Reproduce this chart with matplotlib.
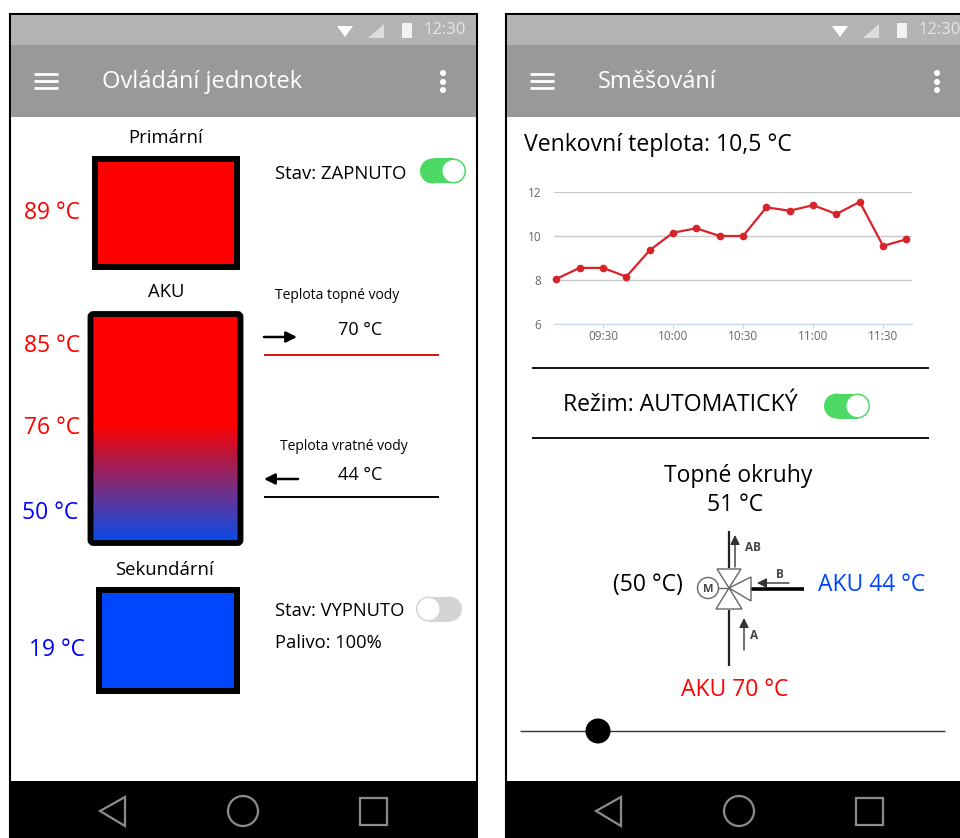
import numpy as np
import matplotlib
matplotlib.use('Agg')
import matplotlib.pyplot as plt
from matplotlib.patches import Rectangle, Circle, FancyBboxPatch, Polygon
from matplotlib.colors import LinearSegmentedColormap

plt.rcParams['font.family'] = ['Open Sans', 'DejaVu Sans']

times = [550, 560, 570, 580, 590, 600, 610, 620, 630, 640, 650, 660, 670, 680, 690, 700]
temps = [8.05, 8.55, 8.55, 8.15, 9.35, 10.15, 10.35, 10.0, 10.0, 11.3, 11.15, 11.4, 11.0, 11.55, 9.55, 9.85]
time_ticks = [570, 600, 630, 660, 690]
time_labels = ['09:30', '10:00', '10:30', '11:00', '11:30']
temp_ticks = [6, 8, 10, 12]

RED = '#ff0000'
BLUE = '#0046ff'

fig = plt.figure(figsize=(9.6, 8.38), dpi=100)
ax = fig.add_axes([0, 0, 1, 1])
ax.set_xlim(0, 960)
ax.set_ylim(838, 0)
ax.axis('off')


def txt(x, y, s, size=15, color='black', ha='center', **kw):
    ax.text(x, y + 2, s, fontsize=size, color=color, ha=ha, va='center', **kw)


def line(x0, y0, x1, y1, lw=1.5, color='black', z=3):
    ax.plot([x0, x1], [y0, y1], color=color, lw=lw, solid_capstyle='butt', zorder=z)


def arrow(x0, y0, x1, y1, lw=2, color='black', ms=16):
    ax.annotate('', xy=(x1, y1), xytext=(x0, y0),
                arrowprops=dict(arrowstyle='-|>', color=color, lw=lw, mutation_scale=ms,
                                shrinkA=0, shrinkB=0))


def toggle(x0, x1, y, on):
    col = '#4cd964' if on else '#d4d4d6'
    r = 12.5
    ax.add_patch(Rectangle((x0 + r, y - r), x1 - x0 - 2 * r, 2 * r, fc=col, ec='none', zorder=3))
    ax.add_patch(Circle((x0 + r, y), r, fc=col, ec='none', zorder=3))
    ax.add_patch(Circle((x1 - r, y), r, fc=col, ec='none', zorder=3))
    cx = x1 - r if on else x0 + r
    ax.add_patch(Circle((cx, y), 11, fc='white', ec='none', zorder=4))


def phone(x0, x1, title, title_x, menu_x, dots_x, status_shift):
    ax.add_patch(Rectangle((x0, 14), x1 - x0, 824, fc='white', ec='black', lw=1.5, zorder=1))
    ax.add_patch(Rectangle((x0 + 1, 15), x1 - x0 - 2, 30, fc='#b3b3b3', ec='none', zorder=2))
    ax.add_patch(Rectangle((x0 + 1, 45), x1 - x0 - 2, 72, fc='#999999', ec='none', zorder=2))
    ax.add_patch(Rectangle((x0 + 1, 781), x1 - x0 - 2, 57, fc='black', ec='none', zorder=2))
    for y in (74, 81, 88):
        line(menu_x, y, menu_x + 24, y, lw=2, color='white')
    for y in (73, 82, 90):
        ax.add_patch(Circle((dots_x, y), 3, fc='white', ec='none', zorder=3))
    txt(title_x, 80, title, size=17, color='white', ha='left')
    # status icons
    s = status_shift
    ax.add_patch(Polygon([(337 + s, 26), (353 + s, 26), (345 + s, 37)], fc='white', ec='none', zorder=3))
    ax.add_patch(Polygon([(368 + s, 38), (384 + s, 38), (384 + s, 24)], fc='#dddddd', ec='none', zorder=3))
    ax.add_patch(Rectangle((402 + s, 23), 10, 15, fc='#f2f2f2', ec='none', zorder=3))
    txt(424 + s, 28, '12:30', size=12, color='#e6e6e6', ha='left')
    # nav buttons
    ax.add_patch(Polygon([(x0 + 90, 811), (x0 + 115, 797), (x0 + 115, 826)], fc='none', ec='#8c8c8c', lw=1.6, zorder=3))
    ax.add_patch(Circle((x0 + 233, 811), 15, fc='none', ec='#8c8c8c', lw=1.6, zorder=3))
    ax.add_patch(Rectangle((x0 + 350, 798), 27, 27, fc='none', ec='#8c8c8c', lw=1.6, zorder=3))


phone(10, 477, 'Ovládání jednotek', 102, 34, 443, 0)
phone(506, 970, 'Směšování', 598, 530, 937, 495)

# left phone: tanks
txt(166, 136, 'Primární', 13.3)
ax.add_patch(Rectangle((95, 159), 142, 108, fc=RED, ec='black', lw=4.3, zorder=3))
txt(52, 211, '89 °C', 16.5, RED)
txt(275, 172, 'Stav: ZAPNUTO', 13.3, ha='left')
toggle(420, 466, 171, True)

txt(166, 290, 'AKU', 13.3)
cmap = LinearSegmentedColormap.from_list('aku', [(0, '#ff0000'), (0.48, '#ff0000'), (0.62, '#b8163c'),
                                                 (0.78, '#72308a'), (1, '#0a4be6')])
ax.imshow(np.linspace(0, 1, 256).reshape(-1, 1), cmap=cmap, extent=(90, 241, 541, 316),
          aspect='auto', zorder=2)
ax.set_xlim(0, 960)
ax.set_ylim(838, 0)
ax.add_patch(FancyBboxPatch((90.5, 314), 150, 229, boxstyle='round,pad=0,rounding_size=3',
                            fc='none', ec='black', lw=4.2, zorder=3))
txt(52, 344, '85 °C', 16.5, RED)
txt(52, 426, '76 °C', 16.5, RED)
txt(50, 511, '50 °C', 16.5, '#0000ff')

txt(337, 293, 'Teplota topné vody', 10)
txt(360, 328, '70 °C', 13)
arrow(264, 337, 297, 337, lw=1.8)
line(264, 355, 439, 355, lw=1.4, color='#e01010')
txt(344, 444, 'Teplota vratné vody', 10)
txt(360, 473, '44 °C', 13)
arrow(298, 479, 264, 479, lw=1.8)
line(264, 497, 439, 497, lw=1.4)

txt(164, 568, 'Sekundární', 13.3)
ax.add_patch(Rectangle((99, 590), 138, 101, fc=BLUE, ec='black', lw=4.3, zorder=3))
txt(57, 648, '19 °C', 16.5, '#0000ff')
txt(275, 609, 'Stav: VYPNUTO', 13.2, ha='left')
toggle(416, 462, 609, False)
txt(275, 641, 'Palivo: 100%', 13.2, ha='left')

# right phone
txt(524, 143, 'Venkovní teplota: 10,5 °C', 16.6, ha='left')

# chart axes: x 554-912 px, y 192-324 px
cax = fig.add_axes([554 / 960, 1 - 324 / 838, 358 / 960, 132 / 838])
cax.plot(times, temps, color='#d9232a', lw=1.6, marker='o', ms=4.5, zorder=3, clip_on=False)
cax.set_ylim(6, 12)
cax.set_xlim(549, 702.4)
cax.set_yticks(temp_ticks)
cax.set_xticks(time_ticks)
cax.set_xticklabels(time_labels)
cax.tick_params(axis='y', length=0, labelsize=8.5, labelcolor='#666666', pad=9)
cax.tick_params(axis='x', length=3, color='#c5d5e8', labelsize=8.5, labelcolor='#666666', pad=1)
cax.grid(axis='y', color='#c8c8c8', lw=1)
for side in ('top', 'left', 'right'):
    cax.spines[side].set_visible(False)
cax.spines['bottom'].set_color('#c5d5e8')
cax.patch.set_alpha(0)

line(532, 368, 929, 368, lw=1.3)
txt(563, 403, 'Režim: AUTOMATICKÝ', 16.6, ha='left')
toggle(824, 870, 406, True)
line(532, 438, 929, 438, lw=1.3)

txt(738, 474, 'Topné okruhy', 16.5)
txt(735, 503, '51 °C', 16.5)
txt(648, 583, '(50 °C)', 16.5)
txt(872, 583, 'AKU 44 °C', 16.5, '#0046ff')
txt(735, 688, 'AKU 70 °C', 16.5, RED)

# mixing valve
vx, vy = 729, 588
line(vx, 531, vx, 568, lw=1.6, color='#222222')
line(vx, 610, vx, 666, lw=1.6, color='#222222')
line(751, 589, 804, 589, lw=2.6, color='black')
for pts in ([(717, 569), (741, 569), (vx, vy)], [(716, 609), (742, 609), (vx, vy)],
            [(751, 577), (751, 601), (vx, vy)]):
    ax.add_patch(Polygon(pts, fc='white', ec='#666666', lw=1, zorder=4))
line(699, 588, vx, 588, lw=1, color='#666666')
ax.add_patch(Circle((708, 588), 10.5, fc='white', ec='#666666', lw=1, zorder=5))
txt(708, 587, 'M', 8, '#444444', fontweight='bold', zorder=6)
arrow(735, 567, 735, 535, lw=1, color='#333333', ms=14)
arrow(744, 650, 744, 618, lw=1, color='#333333', ms=14)
arrow(789, 583, 757, 583, lw=1, color='#333333', ms=14)
txt(753, 545, 'AB', 8.5, '#444444', fontweight='bold')
txt(754, 633, 'A', 8.5, '#444444', fontweight='bold')
txt(780, 572, 'B', 8.5, '#444444', fontweight='bold')

# slider
line(520, 731, 945, 731, lw=1, color='#333333')
ax.add_patch(Circle((598, 731), 12.5, fc='black', ec='none', zorder=4))

fig.savefig('out.png', dpi=100)
